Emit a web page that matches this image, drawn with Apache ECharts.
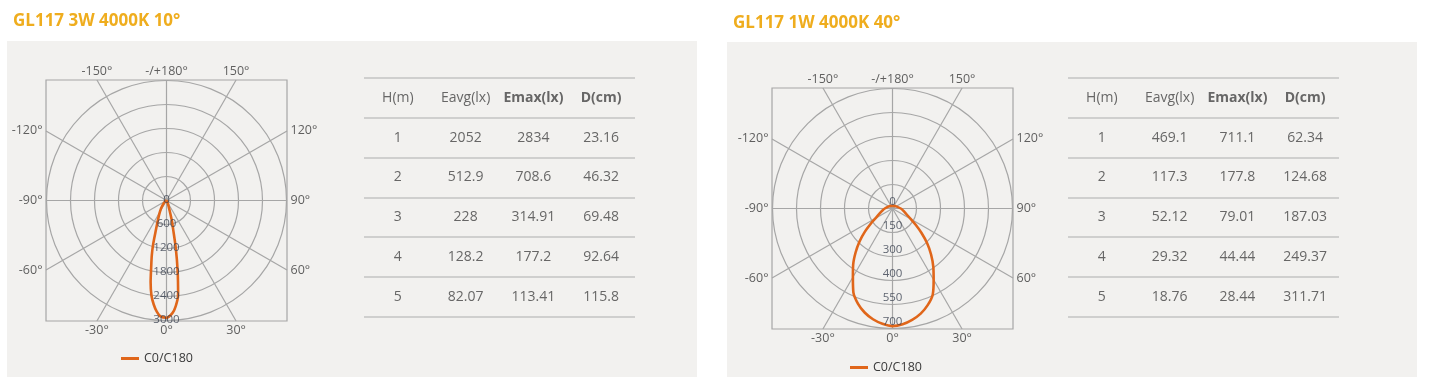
<!DOCTYPE html>
<html><head><meta charset="utf-8">
<script src="https://cdn.jsdelivr.net/npm/echarts@6/dist/echarts.min.js"></script>
<style>html,body{margin:0;padding:0;background:#fff}#c{width:1431px;height:390px}</style>
</head><body><div id="c"></div>
<script>
// ---------- data ----------
const titles = ['GL117 3W 4000K 10°', 'GL117 1W 4000K 40°'];
const legendName = 'C0/C180';

const spokeAngles = [0, 30, 60, 90, 120, 150];
const angleTickValues = [-180, -150, 150, -120, 120, -90, 90, -60, 60, -30, 0, 30];
const angleTickLabels = ['-/+180°', '-150°', '150°', '-120°', '120°', '-90°', '90°', '-60°', '60°', '-30°', '0°', '30°'];

const leftAngles =    [-90, -60, -45, -35, -30, -25, -20, -17, -15, -13, -11, -9, -7, -5, -3, 0, 3, 5, 7, 9, 11, 13, 15, 18, 25, 45, 60, 90];
const leftIntensity = [0, 20, 90, 235, 330, 480, 760, 1140, 1420, 1700, 2080, 2405, 2620, 2790, 2900, 2930, 2820, 2650, 2380, 1780, 1220, 740, 500, 220, 80, 20, 5, 0];
const leftRadiusMax = 3000;
const leftRadiusInterval = 600;
const leftRadiusLabels = ['0', '600', '1200', '1800', '2400', '3000'];

const rightAngles =    [-180, -150, -120, -90, -80, -70, -60, -55, -50, -45, -40, -35, -30, -25, -20, -15, -10, -5, 0, 5, 10, 15, 20, 25, 30, 35, 40, 45, 50, 55, 60, 70, 80, 90, 120, 150, 180];
const rightIntensity = [15, 18, 25, 45, 58, 78, 115, 155, 210, 272, 335, 400, 462, 540, 590, 628, 656, 675, 686, 678, 660, 635, 600, 555, 480, 415, 350, 285, 220, 165, 122, 82, 62, 48, 25, 18, 15];
const rightRadiusMax = 700;
const rightRadiusInterval = 140;
const rightRadiusLabels = ['0', '150', '300', '400', '550', '700'];

const tableColumns = ['H(m)', 'Eavg(lx)', 'Emax(lx)', 'D(cm)'];
const boldHeader = [false, false, true, true];
const heights = [1, 2, 3, 4, 5];
const leftEavg = [2052, 512.9, 228, 128.2, 82.07];
const leftEmax = [2834, 708.6, 314.91, 177.2, 113.41];
const leftD = [23.16, 46.32, 69.48, 92.64, 115.8];
const rightEavg = [469.1, 117.3, 52.12, 29.32, 18.76];
const rightEmax = [711.1, 177.8, 79.01, 44.44, 28.44];
const rightD = [62.34, 124.68, 187.03, 249.37, 311.71];

// ---------- styles ----------
const FONT = 'Open Sans';
const GRID_COLOR = '#a6a6a6';
const CURVE_COLOR = '#e0661a';
const TEXT_COLOR = '#3a3a3a';

// ---------- builders ----------
function dir(a) {
  const r = a * Math.PI / 180;
  const dx = Math.sin(r), dy = -Math.cos(r);
  const t = 1 / Math.max(Math.abs(dx), Math.abs(dy));
  return [dx * t, dy * t];
}
function spokeSeries(ax) {
  return {
    type: 'lines', coordinateSystem: 'cartesian2d', xAxisIndex: ax, yAxisIndex: ax, silent: true, z: 1,
    lineStyle: { color: GRID_COLOR, width: 1.2, opacity: 1 },
    data: spokeAngles.map(a => { const p = dir(a); return { coords: [[-p[0], -p[1]], [p[0], p[1]]] }; })
  };
}
function angleLabelSeries(ax) {
  return {
    type: 'scatter', xAxisIndex: ax, yAxisIndex: ax, silent: true, symbolSize: 1,
    itemStyle: { color: 'rgba(0,0,0,0)' },
    label: { show: true, formatter: '{b}', color: TEXT_COLOR, fontSize: 12.5, fontFamily: FONT },
    data: angleTickValues.map((v, i) => {
      const p = dir(v);
      let pos, dist;
      if (Math.abs(p[1]) > 0.999) { pos = p[1] > 0 ? 'top' : 'bottom'; dist = 2; }
      else { pos = p[0] > 0 ? 'right' : 'left'; dist = 3; }
      return { name: angleTickLabels[i], value: p, label: { position: pos, distance: dist } };
    })
  };
}
function curveSeries(pi, angles, vals) {
  return {
    type: 'line', name: legendName, coordinateSystem: 'polar', polarIndex: pi, z: 5,
    symbol: 'none', smooth: 0.3, silent: true,
    lineStyle: { color: CURVE_COLOR, width: 2.6 }, itemStyle: { color: CURVE_COLOR },
    data: angles.map((a, i) => [vals[i], (a + 360) % 360])
  };
}
// radius tick labels drawn on top of the curve, placed through the polar scale
function radiusLabelSeries(pi, interval, labels, dy) {
  return {
    type: 'scatter', coordinateSystem: 'polar', polarIndex: pi, silent: true, symbolSize: 1, z: 8,
    itemStyle: { color: 'rgba(0,0,0,0)' },
    label: { show: true, position: 'inside', offset: [0, dy], formatter: '{b}', fontSize: 11.5, color: '#3a4150', fontFamily: FONT },
    data: labels.map((l, i) => ({ name: l, value: [i * interval, 0] }))
  };
}
function tableSeries(ax, eavg, emax, d) {
  const data = [];
  tableColumns.forEach((c, ci) => data.push({ name: c, value: [ci, 0], label: { fontWeight: boldHeader[ci] ? 'bold' : 'normal' } }));
  heights.forEach((h, ri) => {
    [h, eavg[ri], emax[ri], d[ri]].forEach((v, ci) => data.push({ name: String(v), value: [ci, ri + 1] }));
  });
  return {
    type: 'scatter', xAxisIndex: ax, yAxisIndex: ax, silent: true, symbolSize: 1,
    itemStyle: { color: 'rgba(0,0,0,0)' },
    label: { show: true, position: 'inside', formatter: '{b}', color: '#444', fontSize: 14, fontFamily: FONT },
    data
  };
}
const boxAxis = (g) => ({ gridIndex: g, type: 'value', min: -1, max: 1, show: false });
const rowCats = ['hdr'].concat(heights.map(String));
const legendOpt = (left, top) => ({
  data: [{ name: legendName, icon: 'rect', itemStyle: { color: CURVE_COLOR } }],
  left, top, itemWidth: 18, itemHeight: 3, selectedMode: false, padding: 0, itemGap: 5,
  textStyle: { color: TEXT_COLOR, fontSize: 12.5, fontFamily: FONT }
});
const radiusAxisOpt = (pi, max, interval) => ({
  polarIndex: pi, type: 'value', min: 0, max, interval,
  axisLine: { show: false }, axisTick: { show: false }, axisLabel: { show: false },
  splitLine: { show: true, lineStyle: { color: GRID_COLOR, width: 1.2 } }
});

const option = {
  animation: false,
  backgroundColor: '#ffffff',
  graphic: [
    { type: 'rect', z: -10, silent: true, shape: { x: 7, y: 41, width: 690, height: 336 }, style: { fill: '#f2f1ef' } },
    { type: 'rect', z: -10, silent: true, shape: { x: 727, y: 42, width: 690, height: 335 }, style: { fill: '#f2f1ef' } }
  ],
  title: [
    { text: titles[0], left: 13, top: 13, padding: 0, textStyle: { color: '#efad1e', fontSize: 17, fontWeight: 'bold', fontFamily: FONT } },
    { text: titles[1], left: 733, top: 15, padding: 0, textStyle: { color: '#efad1e', fontSize: 17, fontWeight: 'bold', fontFamily: FONT } }
  ],
  legend: [legendOpt(121, 352), legendOpt(850, 361)],
  grid: [
    { left: 46, top: 80, width: 241, height: 241, show: true, borderColor: GRID_COLOR, borderWidth: 1.2, backgroundColor: 'transparent' },
    { left: 364, top: 78, width: 271, height: 238.5 },
    { left: 772, top: 88, width: 241, height: 241, show: true, borderColor: GRID_COLOR, borderWidth: 1.2, backgroundColor: 'transparent' },
    { left: 1068, top: 78, width: 271, height: 238.5 }
  ],
  xAxis: [
    boxAxis(0),
    { gridIndex: 1, type: 'category', data: tableColumns, show: false },
    boxAxis(2),
    { gridIndex: 3, type: 'category', data: tableColumns, show: false }
  ],
  yAxis: [
    boxAxis(0),
    { gridIndex: 1, type: 'category', data: rowCats, inverse: true, axisLine: { show: false }, axisTick: { show: false }, axisLabel: { show: false },
      splitLine: { show: true, lineStyle: { color: '#c3c3c3', width: 1.5 } } },
    boxAxis(2),
    { gridIndex: 3, type: 'category', data: rowCats, inverse: true, axisLine: { show: false }, axisTick: { show: false }, axisLabel: { show: false },
      splitLine: { show: true, lineStyle: { color: '#c3c3c3', width: 1.5 } } }
  ],
  polar: [
    { center: [166.5, 200.5], radius: 120 },
    { center: [892.5, 208.5], radius: 120 }
  ],
  angleAxis: [
    { polarIndex: 0, type: 'value', min: 0, max: 360, startAngle: 270, clockwise: false, show: false },
    { polarIndex: 1, type: 'value', min: 0, max: 360, startAngle: 270, clockwise: false, show: false }
  ],
  radiusAxis: [
    radiusAxisOpt(0, leftRadiusMax, leftRadiusInterval),
    radiusAxisOpt(1, rightRadiusMax, rightRadiusInterval)
  ],
  series: [
    spokeSeries(0),
    angleLabelSeries(0),
    curveSeries(0, leftAngles, leftIntensity),
    radiusLabelSeries(0, leftRadiusInterval, leftRadiusLabels, -1),
    tableSeries(1, leftEavg, leftEmax, leftD),
    spokeSeries(2),
    angleLabelSeries(2),
    curveSeries(1, rightAngles, rightIntensity),
    radiusLabelSeries(1, rightRadiusInterval, rightRadiusLabels, -7),
    tableSeries(3, rightEavg, rightEmax, rightD)
  ]
};
const chart = echarts.init(document.getElementById('c'), null, { renderer: 'canvas' });
chart.setOption(option);
</script>
</body></html>
